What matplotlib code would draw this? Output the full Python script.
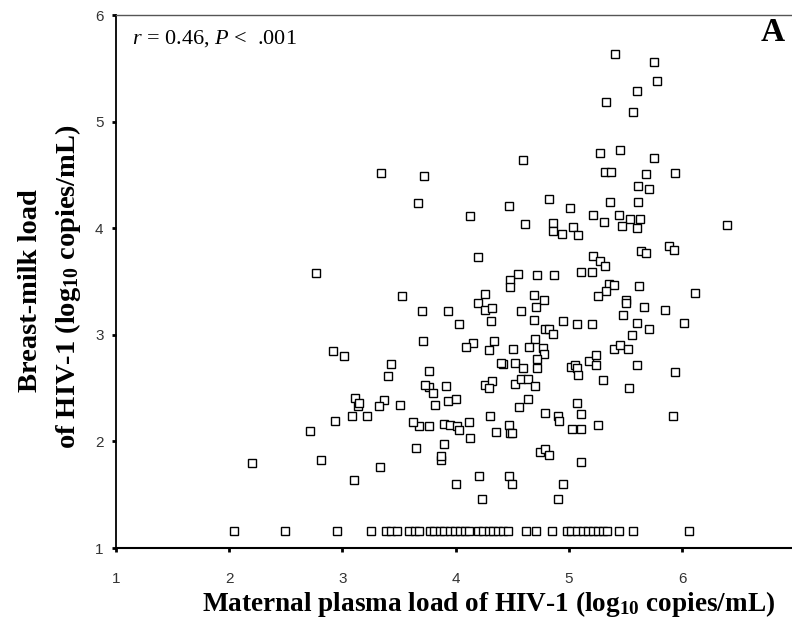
import matplotlib
matplotlib.use("Agg")
import matplotlib.pyplot as plt

plt.rcParams["mathtext.fontset"] = "custom"
plt.rcParams["mathtext.rm"] = "Liberation Serif"
plt.rcParams["mathtext.it"] = "Liberation Serif:italic"
plt.rcParams["mathtext.bf"] = "Liberation Serif:bold"

# Maternal plasma load (log10 copies/mL) and breast-milk load (log10 copies/mL)
plasma_detected = [
    5.41, 5.75, 5.78, 5.60, 5.33, 5.57, 5.27, 5.45, 5.75, 4.59,
    3.72, 5.32, 5.37, 5.68, 5.94, 5.61, 5.71, 3.67, 4.82, 5.36,
    5.61, 4.47, 5.01, 4.13, 5.21, 5.44, 5.54, 5.63, 5.31, 5.47,
    5.60, 4.61, 4.86, 4.86, 4.94, 5.04, 5.08, 6.40, 4.20, 5.21,
    5.27, 5.32, 5.64, 5.68, 5.88, 5.93, 4.55, 4.48, 4.48, 4.72,
    4.87, 5.11, 5.20, 5.35, 5.40, 5.33, 5.62, 6.11, 4.26, 4.69,
    4.78, 5.26, 5.50, 3.53, 3.34, 2.77,
    4.20, 4.26, 4.32, 4.31, 3.93, 4.03, 3.70, 4.58, 4.71, 4.69,
    4.95, 5.07, 5.20, 5.50, 5.66, 5.48, 5.85, 5.60, 5.71, 6.02,
    5.56, 4.79, 4.82, 4.86, 4.70, 4.65, 4.77, 4.78, 4.72, 4.72,
    4.51, 4.52, 4.59, 4.42, 4.40, 4.34, 4.29, 4.15, 4.09, 3.71,
    3.76, 3.76, 3.73, 3.80, 3.91, 3.82, 3.93, 4.00, 4.26, 4.32,
    4.29, 4.52, 4.58, 4.64, 4.70, 4.64, 4.56, 4.30, 4.79, 4.90,
    4.91, 5.07, 5.11, 5.02, 5.05, 5.07, 5.08, 5.18, 5.24, 5.24,
    5.30, 5.40, 5.45, 5.52, 5.60, 5.53, 5.94, 5.92, 5.26, 5.03,
    5.11, 4.47, 4.48, 4.50, 4.36, 4.13, 4.12, 3.90, 3.95, 4.01,
    4.03, 3.68, 3.76, 3.90, 3.87, 3.87, 3.65, 4.21, 4.47, 4.00,
    4.50, 4.23, 4.95, 4.90, 5.11, 4.74, 4.79, 4.82,
    2.92, 3.01, 3.43, 3.40, 3.11, 3.14, 3.15, 3.37, 3.32, 3.51,
    3.08, 3.22, 2.93, 2.71, 3.62, 2.81, 2.20, 3.33, 3.10,
]
milk_detected = [
    5.63, 5.56, 5.38, 5.29, 5.18, 5.09, 4.71, 4.73, 4.66, 4.64,
    4.49, 4.53, 4.53, 4.51, 4.52, 4.40, 4.37, 4.24, 4.27, 4.25,
    4.25, 4.21, 4.19, 4.11, 4.12, 4.12, 4.09, 4.09, 4.06, 4.02,
    4.00, 4.04, 4.05, 3.97, 3.95, 4.01, 3.94, 4.03, 3.73, 3.74,
    3.69, 3.65, 3.79, 3.77, 3.83, 3.80, 3.57, 3.51, 3.45, 3.56,
    3.56, 3.59, 3.59, 3.48, 3.47, 3.41, 3.46, 3.39, 3.38, 3.37,
    3.33, 3.36, 3.33, 3.36, 4.52, 3.58,
    3.30, 3.23, 3.25, 3.13, 3.22, 3.10, 3.22, 3.22, 3.26, 3.14,
    3.13, 3.10, 3.10, 3.30, 3.26, 3.19, 3.23, 3.11, 3.05, 3.11,
    3.00, 3.05, 3.05, 3.01, 2.96, 2.89, 2.88, 2.82, 2.77, 2.69,
    2.87, 2.74, 2.69, 2.73, 2.74, 2.94, 2.86, 2.92, 2.89, 2.94,
    2.66, 2.51, 2.53, 2.45, 2.52, 2.34, 2.38, 2.40, 2.53, 2.57,
    2.50, 2.54, 2.59, 2.59, 2.52, 2.40, 2.32, 2.24, 2.27, 2.24,
    2.19, 2.36, 2.26, 2.70, 2.72, 2.69, 2.62, 2.75, 2.81, 2.72,
    2.58, 2.87, 2.90, 2.87, 2.72, 2.50, 2.65, 2.24, 2.15, 2.12,
    2.12, 2.15, 2.08, 2.08, 2.09, 2.03, 2.18, 2.16, 2.15, 2.14,
    2.11, 2.14, 2.14, 1.98, 1.83, 1.86, 1.94, 1.68, 1.68, 1.60,
    1.60, 1.46, 1.60, 1.46, 1.81, 1.90, 1.93, 1.87,
    2.85, 2.80, 2.73, 2.61, 2.41, 2.33, 2.36, 2.39, 2.33, 2.34,
    2.24, 2.24, 2.19, 2.10, 2.18, 1.83, 1.80, 1.76, 1.64,
]

# Women whose breast-milk load was below detection (plotted at the floor)
plasma_undetected = [
    2.04, 2.49, 2.95, 3.25, 3.38, 3.43, 3.48, 3.59, 3.64, 3.68,
    3.77, 3.81, 3.86, 3.90, 3.95, 3.99, 4.04, 4.08, 4.12, 4.20,
    4.24, 4.29, 4.33, 4.37, 4.42, 4.46, 4.62, 4.71, 4.85, 4.98,
    5.02, 5.07, 5.12, 5.17, 5.21, 5.26, 5.30, 5.34, 5.44, 5.57,
    6.06,
]
milk_floor = 1.16

x_ticks = [1, 2, 3, 4, 5, 6]
y_ticks = [1, 2, 3, 4, 5, 6]

fig = plt.figure(figsize=(7.92, 6.31), dpi=100)
ax = fig.add_axes([0.1465, 0.1315, 0.8535, 0.8447])

all_x = plasma_detected + plasma_undetected
all_y = milk_detected + [milk_floor] * len(plasma_undetected)
ax.plot(all_x, all_y, linestyle="none", marker="s", markersize=5.2,
        markerfacecolor="white", markeredgecolor="black", markeredgewidth=1.0)

ax.set_xlim(1, 6.97)
ax.set_ylim(1, 6)
ax.set_xticks(x_ticks)
ax.set_yticks(y_ticks)
ax.tick_params(direction="out", length=3, width=2, color="black",
               labelsize=11, labelcolor="#333333")
ax.tick_params(axis="y", pad=6)
ax.tick_params(axis="x", pad=14)
for lbl in ax.get_xticklabels() + ax.get_yticklabels():
    lbl.set_family("Liberation Sans")

ax.spines["right"].set_visible(False)
ax.spines["top"].set_color("#555555")
ax.spines["top"].set_linewidth(1.0)
ax.spines["left"].set_linewidth(1.3)
ax.spines["bottom"].set_linewidth(1.5)

fig.text(0.617, 0.043, r"Maternal plasma load of HIV-1 (log$_{\mathbf{10}}$ copies/mL)",
         ha="center", va="center", family="Liberation Serif",
         fontweight="bold", fontsize=19.6)
fig.text(0.038, 0.539, "Breast-milk load", rotation=90, ha="center",
         va="center", family="Liberation Serif", fontweight="bold",
         fontsize=20.5)
fig.text(0.086, 0.545, r"of HIV-1 (log$_{\mathbf{10}}$ copies/mL)", rotation=90,
         ha="center", va="center", family="Liberation Serif",
         fontweight="bold", fontsize=20.5)

ax.text(0.023, 0.955, "$r$ = 0.46, $P$ <  .001", transform=ax.transAxes,
        family="Liberation Serif", fontsize=16, ha="left", va="center")
ax.text(0.971, 0.968, "A", transform=ax.transAxes, family="Liberation Serif",
        fontweight="bold", fontsize=24, ha="center", va="center")

fig.savefig("out.png", dpi=100)
